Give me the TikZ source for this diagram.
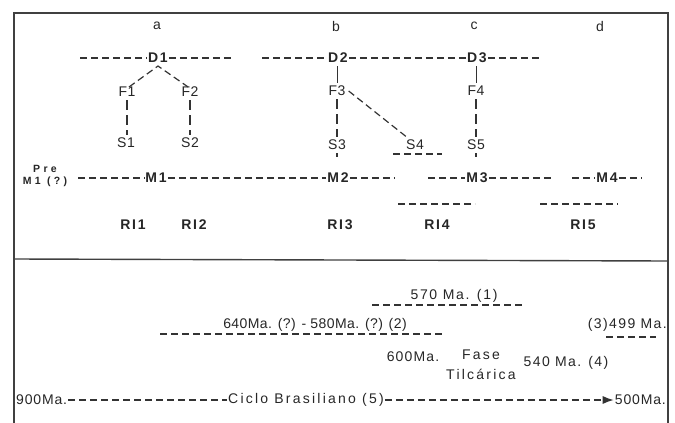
\documentclass[tikz,border=0pt]{standalone}
\usepackage{fontspec}
\setmainfont{Liberation Sans}
\usetikzlibrary{arrows.meta}
\newcommand{\ls}[1]{\addfontfeatures{LetterSpace=#1}}
\begin{document}
\begin{tikzpicture}[x=1pt,y=-1pt,
  lab/.style={font=\fontsize{14}{15}\selectfont\ls{4}, inner sep=1pt, text=black!85},
  blab/.style={font=\fontsize{14}{15}\selectfont\bfseries\ls{12}, inner sep=1pt, text=black!85},
  slab/.style={font=\fontsize{10.5}{11}\selectfont\bfseries\ls{32}, inner sep=0.5pt, text=black!85},
  tlab/.style={font=\fontsize{14}{15}\selectfont\ls{#1}, inner sep=1pt, text=black!85},
  tlab/.default=10,
  dl/.style={dash pattern=on 7pt off 4pt, line width=1.2pt, draw=black!80},
  vl/.style={dash pattern=on 10pt off 5pt, line width=1.1pt, draw=black!80},
  frame/.style={line width=1.4pt, draw=black!75}]
\useasboundingbox (0,0) rectangle (675,423);
% frame
\coordinate (tl) at (14,13); \coordinate (tr) at (668,13);
\coordinate (bl) at (14,423); \coordinate (br) at (668,423);
\coordinate (ml) at (14,259); \coordinate (mr) at (668,261);
\draw[frame] (bl) -- (tl) -- (tr) -- (br);
\draw[frame] (ml) -- (mr);
% column letters
\node[lab] (ca) at (157,26) {a};
\node[lab] (cb) at (336,26) {b};
\node[lab] (cc) at (474,26) {c};
\node[lab] (cd) at (600,26) {d};
% D row
\node[blab] (D1) at (158,58) {D1};
\node[blab] (D2) at (338,58) {D2};
\node[blab] (D3) at (477,58) {D3};
\coordinate (d1l) at (80,58); \coordinate (d1r) at (233,58);
\coordinate (d2l) at (262,58); \coordinate (d3r) at (540,58);
\draw[dl] (d1l) -- (D1.west);
\draw[dl] (D1.east) -- (d1r);
\draw[dl] (d2l) -- (D2.west);
\draw[dl] (D2.east) -- (D3.west);
\draw[dl] (D3.east) -- (d3r);
% F and S
\node[lab] (F1) at (127,92) {F1};
\node[lab] (F2) at (190,92) {F2};
\node[lab] (F3) at (337,91) {F3};
\node[lab] (F4) at (476,91) {F4};
\node[lab] (S1) at (126,143) {S1};
\node[lab] (S2) at (190,143) {S2};
\node[lab] (S3) at (337,145) {S3};
\node[lab] (S4) at (415,145) {S4};
\node[lab] (S5) at (476,145) {S5};
\draw[dl] ([xshift=2pt,yshift=-1pt]F1.north) -- ([yshift=-2pt]D1.south) -- ([xshift=-2pt,yshift=-1pt]F2.north);
\draw[vl] ([yshift=-2pt]F1.south) -- ([yshift=2pt]F1.south |- S1.north);
\draw[vl] ([yshift=-2pt]F2.south) -- ([yshift=2pt]S2.north);
\draw[line width=1pt, draw=black!80] ([yshift=-2pt]F3.north |- D2.south) -- ([yshift=2pt]F3.north);
\draw[line width=1pt, draw=black!80] ([yshift=2pt]F4.north) -- ([yshift=-2pt]F4.north |- D3.south);
\draw[vl] ([yshift=-2pt]F3.south) -- ([yshift=2pt]S3.north);
\draw[vl] ([yshift=-2pt]F4.south) -- ([yshift=2pt]S5.north);
\draw[dl] ([xshift=2pt]F3.east) -- ([xshift=4pt]S4.north west);
\coordinate (s4l) at (393,154); \coordinate (s4r) at (442,154);
\draw[dl] (s4l) -- (s4r);
% M row
\node[slab, align=center] (pre) at (45,176) {Pre\\[1pt]M1 (?)};
\node[blab] (M1) at (156,178) {M1};
\node[blab] (M2) at (338,178) {M2};
\node[blab] (M3) at (477,178) {M3};
\node[blab] (M4) at (607,178) {M4};
\draw[line width=1.2pt, draw=black!80] ([yshift=-2pt]S3.south) -- ([yshift=-6pt]S3.south);
\draw[line width=1.2pt, draw=black!80] ([yshift=-2pt]S5.south) -- ([yshift=-6pt]S5.south);
\coordinate (m1l) at (78,178);
\coordinate (m2r) at (394,178); \coordinate (m3l) at (428,178);
\coordinate (m3r) at (551,178); \coordinate (m4l) at (572,178);
\coordinate (m4r) at (642,178);
\draw[dl] (m1l) -- (M1.west);
\draw[dl] (M1.east) -- (M2.west);
\draw[dl] (M2.east) -- (m2r);
\draw[dl] (m3l) -- (M3.west);
\draw[dl] (M3.east) -- (m3r);
\draw[dl] (m4l) -- (M4.west);
\draw[dl] (M4.east) -- (m4r);
\coordinate (r4l) at (398,204); \coordinate (r4r) at (475,204);
\coordinate (r5l) at (540,204); \coordinate (r5r) at (618,204);
\draw[dl] (r4l) -- (r4r);
\draw[dl] (r5l) -- (r5r);
% RI labels
\node[blab] (RI1) at (133,225) {RI1};
\node[blab] (RI2) at (194,225) {RI2};
\node[blab] (RI3) at (340,225) {RI3};
\node[blab] (RI4) at (437,225) {RI4};
\node[blab] (RI5) at (583,225) {RI5};
% bottom part
\node[tlab=12] (t570) at (454,296) {570 Ma. (1)};
\coordinate (u1l) at (372,305); \coordinate (u1r) at (525,305);
\draw[dl] (u1l) -- (u1r);
\node[tlab=3] (t640) at (315,325) {640Ma. (?) - 580Ma. (?) (2)};
\coordinate (u2l) at (160,334); \coordinate (u2r) at (442,334);
\draw[dl] (u2l) -- (u2r);
\node[tlab=10, anchor=east] (t499) at (668,325) {(3)499 Ma.};
\coordinate (u3l) at (606,337); \coordinate (u3r) at (656,337);
\draw[dl] (u3l) -- (u3r);
\node[tlab=8] (t600) at (413,357) {600Ma.};
\node[tlab=16, align=center] (fase) at (481,365) {Fase\\[5pt]Tilcárica};
\node[tlab=10] (t540) at (566,363) {540 Ma. (4)};
\node[tlab=6, anchor=west] (t900) at (15,400) {900Ma.};
\node[tlab=16] (ciclo) at (306,400) {Ciclo Brasiliano (5)};
\node[tlab=6, anchor=east] (t500) at (667,400) {500Ma.};
\draw[dl] (t900.east) -- (ciclo.west);
\draw[dl, -{Latex[length=11pt,width=8pt]}] (ciclo.east) -- (t500.west);
\end{tikzpicture}
\end{document}
